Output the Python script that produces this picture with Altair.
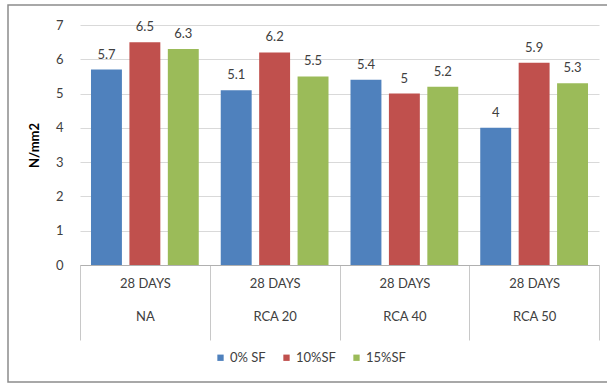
import altair as alt
import pandas as pd

# Mix groups, silica-fume dosages and measured strengths (N/mm2)
mixes = ["NA", "RCA 20", "RCA 40", "RCA 50"]
dosages = ["0% SF", "10%SF", "15%SF"]
strength_0sf = [5.7, 5.1, 5.4, 4.0]
strength_10sf = [6.5, 6.2, 5.0, 5.9]
strength_15sf = [6.3, 5.5, 5.2, 5.3]
age_label = "28 DAYS"
y_ticks = [0, 1, 2, 3, 4, 5, 6, 7]

colors = ["#4F81BD", "#C0504D", "#9BBB59"]

rows = []
for series, values in zip(dosages, [strength_0sf, strength_10sf, strength_15sf]):
    for mix, v in zip(mixes, values):
        rows.append({"mix": mix, "dosage": series, "strength": v})
df = pd.DataFrame(rows)

FONT = "Lato"
W, H = 519, 240

x_enc = alt.X(
    "mix:N",
    sort=mixes,
    scale=alt.Scale(paddingInner=0, paddingOuter=0),
    axis=alt.Axis(
        title=None,
        labelExpr=(
            f"indexof({mixes!r}, datum.label) >= 0 "
            f"? ['{age_label}', datum.label] : ''"
        ),
        labelLineHeight=33,
        labelPadding=-57,
        labelBaseline="middle",
        labelFontSize=13,
        labelColor="#404040",
        labelFont=FONT,
        labelFlush=False,
        tickBand="extent",
        tickSize=75,
        tickColor="#c8c8c8",
        domainColor="#b0b0b0",
        grid=False,
        labelAngle=0,
    ),
)
xoff_enc = alt.XOffset(
    "dosage:N", sort=dosages,
    scale=alt.Scale(paddingInner=0.195, paddingOuter=0.286),
)
y_enc = alt.Y(
    "strength:Q",
    scale=alt.Scale(domain=[0, 7], nice=False),
    axis=alt.Axis(
        title="N/mm2",
        titleFont=FONT,
        titleFontSize=13,
        titleFontWeight="bold",
        titleColor="#000000",
        titlePadding=14,
        values=y_ticks,
        labelOverlap=False,
        labelFont=FONT,
        labelFontSize=13,
        labelColor="#404040",
        labelPadding=17,
        ticks=False,
        domain=False,
        gridColor="#d9d9d9",
    ),
)

bars = alt.Chart(df).mark_bar().encode(
    x=x_enc,
    xOffset=xoff_enc,
    y=y_enc,
    color=alt.Color(
        "dosage:N",
        sort=dosages,
        scale=alt.Scale(domain=dosages, range=colors),
        legend=alt.Legend(
            title=None,
            orient="none",
            direction="horizontal",
            legendX=134,
            legendY=326,
            symbolType="square",
            symbolSize=40,
            symbolStrokeWidth=0,
            labelFont=FONT,
            labelFontSize=13,
            labelColor="#404040",
            columnPadding=14,
            labelOffset=3,
        ),
    ),
)

labels = alt.Chart(df).mark_text(
    baseline="middle", dy=-15, font=FONT, fontSize=13, color="#404040"
).encode(
    x=x_enc,
    xOffset=xoff_enc,
    y=y_enc,
    text=alt.Text("strength:Q", format=".2~g"),
)

# Chart-area frame around the whole figure (right edge runs past the page)
frame = alt.Chart(pd.DataFrame({"k": [0]})).mark_rect(
    fill=None, stroke="#8c8c8c", strokeWidth=1.5, clip=False
).encode(
    x=alt.value(-72), x2=alt.value(W + 40),
    y=alt.value(-20), y2=alt.value(357),
)

chart = alt.layer(frame, bars, labels).properties(
    width=W, height=H,
    autosize=alt.AutoSizeParams(type="none"),
    padding={"left": 80, "top": 25, "right": 8, "bottom": 120},
    background="white",
).configure_view(stroke=None)

chart.save("out.html", embed_options={"renderer": "svg", "actions": False})
